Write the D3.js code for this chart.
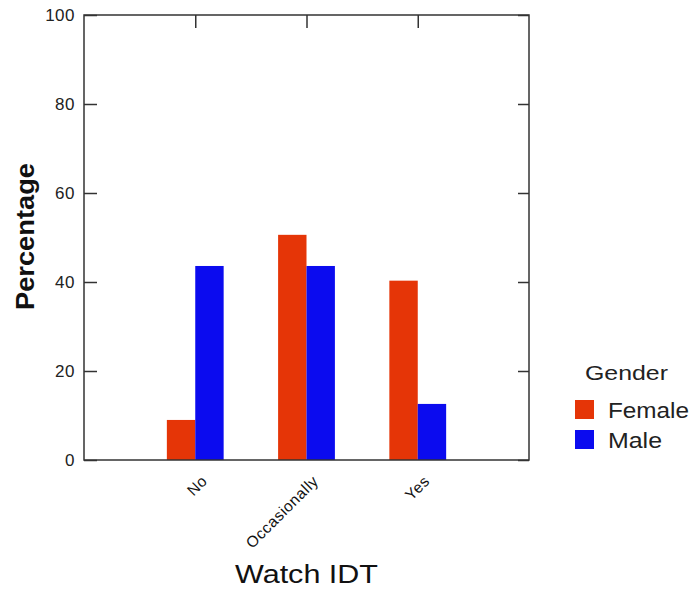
<!DOCTYPE html>
<html>
<head>
<meta charset="utf-8">
<script src="https://cdn.jsdelivr.net/npm/d3@7"></script>
<style>
  html, body { margin: 0; padding: 0; background: #fff; }
  svg { display: block; font-family: Arial, "Liberation Sans", sans-serif; }
</style>
</head>
<body>
<svg id="chart" width="693" height="592"></svg>
<script>
const categories = ["No", "Occasionally", "Yes"];
const seriesNames = ["Female", "Male"];
const femaleValues = [9.0, 50.6, 40.3];
const maleValues = [43.6, 43.6, 12.6];
const yTicks = [0, 20, 40, 60, 80, 100];
const colors = ["#e53507", "#0b0bef"];

const svg = d3.select("#chart");
const plotLeft = 84, plotRight = 529, plotTop = 15, plotBottom = 460;
const axisColor = "#333";

const x = d3.scalePoint().domain(categories).range([plotLeft, plotRight]).padding(1);
const y = d3.scaleLinear().domain([0, 100]).range([plotBottom, plotTop]);
const barW = 28.4;
const xs = d3.scaleBand().domain(seriesNames).range([-barW, barW]).padding(0);

const data = categories.map((c, i) => ({ cat: c, vals: [femaleValues[i], maleValues[i]] }));

// bars
const g = svg.append("g");
data.forEach(d => {
  d.vals.forEach((v, j) => {
    g.append("rect")
      .attr("x", x(d.cat) + xs(seriesNames[j]))
      .attr("y", y(v))
      .attr("width", xs.bandwidth())
      .attr("height", y(0) - y(v))
      .attr("fill", colors[j]);
  });
});

// frame
svg.append("rect").attr("x", plotLeft).attr("y", plotTop)
  .attr("width", plotRight - plotLeft).attr("height", plotBottom - plotTop)
  .attr("fill", "none").attr("stroke", axisColor).attr("stroke-width", 1.5);

// left axis
const leftAxis = d3.axisRight(y).tickValues(yTicks).tickSize(13).tickFormat("");
const la = svg.append("g").attr("transform", `translate(${plotLeft},0)`).call(leftAxis);
la.select(".domain").remove();
la.selectAll("line").attr("stroke", axisColor).attr("stroke-width", 1.5);

// left tick labels
svg.append("g").selectAll("text").data(yTicks).join("text")
  .attr("x", plotLeft - 9).attr("y", d => y(d)).attr("dy", "0.36em")
  .attr("text-anchor", "end").attr("font-size", 17).attr("fill", "#222")
  .attr("letter-spacing", 0.5)
  .text(d => d);

// right axis ticks
const rightAxis = d3.axisLeft(y).tickValues(yTicks).tickSize(11).tickFormat("");
const ra = svg.append("g").attr("transform", `translate(${plotRight},0)`).call(rightAxis);
ra.select(".domain").remove();
ra.selectAll("line").attr("stroke", axisColor).attr("stroke-width", 1.5);

// top axis ticks
const topAxis = d3.axisBottom(x).tickSize(13).tickFormat("");
const ta = svg.append("g").attr("transform", `translate(0,${plotTop})`).call(topAxis);
ta.select(".domain").remove();
ta.selectAll("line").attr("stroke", axisColor).attr("stroke-width", 1.5);

// x tick labels (rotated)
svg.append("g").selectAll("text").data(categories).join("text")
  .attr("transform", d => `translate(${x(d) + 13},${plotBottom + 22}) rotate(-45)`)
  .attr("text-anchor", "end").attr("font-size", 15.5).attr("fill", "#111")
  .attr("letter-spacing", 0.6)
  .text(d => d);

// axis titles
svg.append("text")
  .attr("transform", `translate(34,${(163 + 310) / 2}) rotate(-90)`)
  .attr("text-anchor", "middle").attr("font-size", 25).attr("font-weight", "bold")
  .attr("fill", "#111")
  .attr("textLength", 147).attr("lengthAdjust", "spacingAndGlyphs")
  .text("Percentage");

svg.append("text")
  .attr("x", 306.5).attr("y", 583)
  .attr("text-anchor", "middle").attr("font-size", 25).attr("fill", "#111")
  .attr("textLength", 143).attr("lengthAdjust", "spacingAndGlyphs")
  .text("Watch IDT");

// legend
svg.append("text").attr("x", 585).attr("y", 380)
  .attr("font-size", 21).attr("fill", "#222")
  .attr("textLength", 83).attr("lengthAdjust", "spacingAndGlyphs")
  .text("Gender");
const legendLen = [81, 54];
const lg = svg.append("g");
seriesNames.forEach((s, i) => {
  lg.append("rect").attr("x", 575).attr("y", 400 + i * 30)
    .attr("width", 19).attr("height", 19).attr("fill", colors[i]);
  lg.append("text").attr("x", 608).attr("y", 418 + i * 30)
    .attr("font-size", 22).attr("fill", "#222")
    .attr("textLength", legendLen[i]).attr("lengthAdjust", "spacingAndGlyphs")
    .text(s);
});
</script>
</body>
</html>
